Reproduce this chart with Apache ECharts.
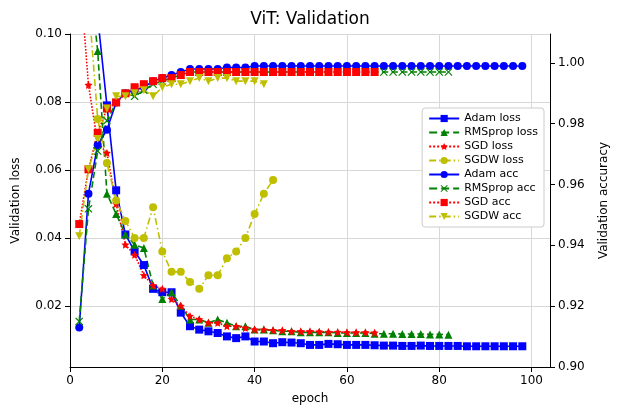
<!DOCTYPE html>
<html><head><meta charset="utf-8">
<script src="https://cdn.jsdelivr.net/npm/echarts@6/dist/echarts.min.js"></script>
</head><body style="margin:0">
<div id="c" style="width:620px;height:420px"></div>
<script>
// epochs 2,4,6,...
var adamLoss = [0.3,0.15,0.105,0.079,0.054,0.041,0.036,0.032,0.025,0.024,0.024,0.018,0.014,0.013,0.0125,0.012,0.011,0.0105,0.011,0.0095,0.0095,0.009,0.0093,0.0092,0.009,0.0085,0.0085,0.0088,0.0087,0.0085,0.0085,0.0085,0.0084,0.0083,0.0083,0.0082,0.0082,0.0083,0.0082,0.0082,0.0082,0.0082,0.0081,0.0081,0.0081,0.0081,0.0081,0.0081,0.0081];
var adamAcc = [0.913,0.957,0.973,0.978,0.987,0.990,0.991,0.992,0.994,0.995,0.996,0.997,0.998,0.998,0.998,0.998,0.9985,0.9985,0.9985,0.999,0.999,0.999,0.999,0.999,0.999,0.999,0.999,0.999,0.999,0.999,0.999,0.999,0.999,0.999,0.999,0.999,0.999,0.999,0.999,0.999,0.999,0.999,0.999,0.999,0.999,0.999,0.999,0.999,0.999];
var rmsLoss = [0.3,0.12,0.095,0.053,0.047,0.041,0.038,0.037,0.026,0.022,0.024,0.020,0.016,0.016,0.015,0.016,0.015,0.014,0.014,0.013,0.013,0.0128,0.0125,0.0125,0.0122,0.0122,0.0122,0.0122,0.012,0.012,0.012,0.012,0.0118,0.0118,0.0118,0.0117,0.0117,0.0117,0.0116,0.0116,0.0115];
var rmsAcc = [0.915,0.952,0.971,0.981,0.987,0.990,0.989,0.991,0.993,0.994,0.995,0.996,0.997,0.997,0.997,0.997,0.997,0.997,0.997,0.997,0.997,0.997,0.997,0.997,0.997,0.997,0.997,0.997,0.997,0.997,0.997,0.997,0.997,0.997,0.997,0.997,0.997,0.997,0.997,0.997,0.997];
var sgdLoss = [0.12,0.085,0.068,0.065,0.050,0.038,0.035,0.029,0.026,0.025,0.022,0.020,0.017,0.016,0.015,0.015,0.014,0.014,0.0135,0.013,0.013,0.0128,0.0128,0.0125,0.0125,0.0125,0.0124,0.0123,0.0123,0.0122,0.0122,0.0122,0.0121];
var sgdAcc = [0.947,0.965,0.977,0.985,0.987,0.990,0.992,0.993,0.994,0.995,0.995,0.996,0.997,0.997,0.997,0.997,0.997,0.997,0.997,0.997,0.997,0.997,0.997,0.997,0.997,0.997,0.997,0.997,0.997,0.997,0.997,0.997,0.997];
var sgdwLoss = [0.3,0.11,0.075,0.062,0.051,0.045,0.040,0.040,0.049,0.036,0.030,0.030,0.027,0.025,0.029,0.029,0.034,0.036,0.040,0.047,0.053,0.057];
var sgdwAcc = [0.943,0.965,0.975,0.985,0.989,0.989,0.990,0.991,0.989,0.992,0.993,0.993,0.994,0.995,0.994,0.995,0.995,0.994,0.994,0.994,0.993];
var lossTicks = [0.02,0.04,0.06,0.08,0.1];
var epochStep = 2;

function pts(arr){ return arr.map(function(v,i){ return [(i+1)*epochStep, v]; }); }
function s(name, data, color, symbol, dash, axis){
  return {name:name, type:'line', yAxisIndex:axis, data:pts(data), symbol:symbol, symbolSize:8,
    itemStyle:{color:color}, lineStyle:{color:color, width:1.6, type:dash}, clip:true, animation:false};
}
var dashdot=[7,3,1.5,3];
var chart = echarts.init(document.getElementById('c'));
chart.setOption({
  title:{text:'ViT: Validation', left:'center', top:6, textStyle:{fontFamily:'DejaVu Sans', fontWeight:'normal', fontSize:17, color:'#000'}},
  textStyle:{fontFamily:'DejaVu Sans'},
  grid:{left:70, right:70, top:34, bottom:53},
  legend:{orient:'vertical', right:76, top:108, backgroundColor:'#fff', borderColor:'#ccc', borderWidth:1, borderRadius:3,
    padding:[5,6], itemGap:3, itemWidth:30, itemHeight:9, textStyle:{fontSize:11, color:'#000'}},
  xAxis:{type:'value', min:0, max:104, interval:20, name:'epoch', nameLocation:'middle', nameGap:26,
    nameTextStyle:{fontSize:12,color:'#000'}, axisLine:{lineStyle:{color:'#000'}}, axisTick:{lineStyle:{color:'#000'}},
    axisLabel:{color:'#000', fontSize:12, showMaxLabel:false}, splitLine:{lineStyle:{color:'#d8d8d8'}}},
  yAxis:[
    {type:'value', min:0.002, max:0.1, name:'Validation loss', nameLocation:'middle', nameGap:48,
     nameTextStyle:{fontSize:12,color:'#000'}, axisLine:{show:true,lineStyle:{color:'#000'}},
     axisTick:{show:true, customValues:lossTicks},
     axisLabel:{color:'#000', fontSize:12, customValues:lossTicks, formatter:function(v){return v.toFixed(2);}},
     splitLine:{lineStyle:{color:'#d8d8d8'}}},
    {type:'value', min:0.9, max:1.0095, interval:0.02, name:'Validation accuracy', nameLocation:'middle', nameGap:48,
     nameTextStyle:{fontSize:12,color:'#000'}, axisLine:{show:true,lineStyle:{color:'#000'}}, axisTick:{show:true},
     axisLabel:{color:'#000', fontSize:12, showMaxLabel:false, formatter:function(v){return v.toFixed(2);}},
     splitLine:{show:false}}
  ],
  series:[
    s('Adam loss', adamLoss, '#0000ff', 'rect', 'solid', 0),
    s('RMSprop loss', rmsLoss, '#008000', 'triangle', 'dashed', 0),
    s('SGD loss', sgdLoss, '#ff0000', 'path://M0,-10L2.9,-4L9.5,-3.1L4.7,1.5L5.9,8.1L0,5L-5.9,8.1L-4.7,1.5L-9.5,-3.1L-2.9,-4Z', 'dotted', 0),
    s('SGDW loss', sgdwLoss, '#bfbf00', 'circle', dashdot, 0),
    s('Adam acc', adamAcc, '#0000ff', 'circle', 'solid', 1),
    s('RMSprop acc', rmsAcc, '#008000', 'path://M-5,-4L-4,-5L0,-1L4,-5L5,-4L1,0L5,4L4,5L0,1L-4,5L-5,4L-1,0Z', 'dashed', 1),
    s('SGD acc', sgdAcc, '#ff0000', 'rect', 'dotted', 1),
    s('SGDW acc', sgdwAcc, '#bfbf00', 'path://M-5,-5L5,-5L0,5Z', dashdot, 1)
  ]
});
</script>
</body></html>
